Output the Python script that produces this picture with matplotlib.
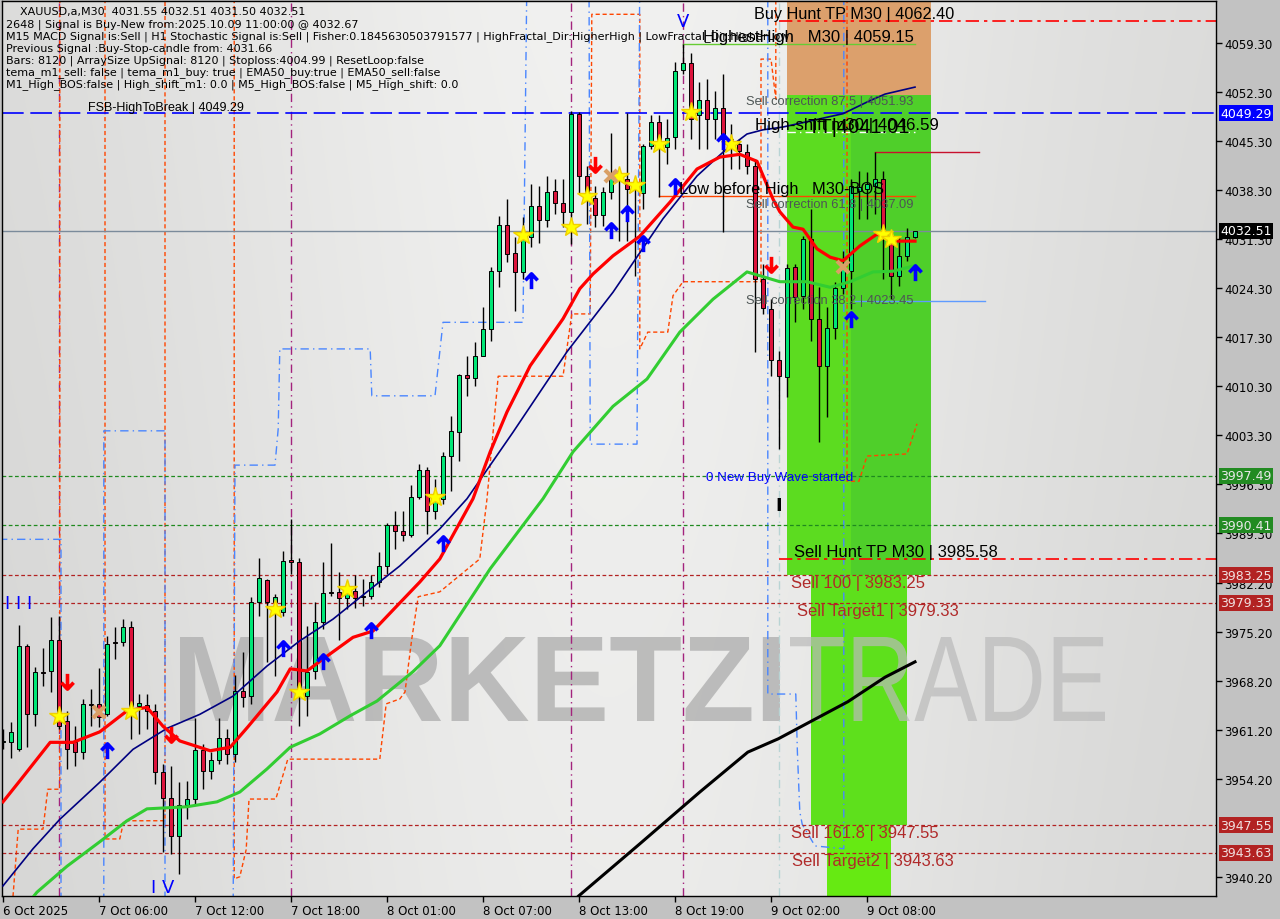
import numpy as np
import matplotlib.pyplot as plt
from matplotlib.patches import Rectangle, PathPatch
from matplotlib.path import Path
from matplotlib.textpath import TextPath
from matplotlib.font_manager import FontProperties
from matplotlib.transforms import Affine2D

W, H = 1280, 920
nan = np.nan

# ---------------- values ----------------
time_labels = ["6 Oct 2025", "7 Oct 06:00", "7 Oct 12:00", "7 Oct 18:00", "8 Oct 01:00",
               "8 Oct 07:00", "8 Oct 13:00", "8 Oct 19:00", "9 Oct 02:00", "9 Oct 08:00"]
time_label_bars = [0, 12, 24, 36, 48, 60, 72, 84, 96, 108]

# 3947.20 sits fully under the 3947.55 tag, so it is left out
price_ticks = [4059.30, 4052.30, 4045.30, 4038.30, 4031.30, 4024.30, 4017.30, 4010.30, 4003.30,
               3996.30, 3989.30, 3982.20, 3975.20, 3968.20, 3961.20, 3954.20, 3940.20]

open_ = [3959.4, 3959.4, 3958.4, 3973.2, 3963.4, 3969.4, 3969.6, 3974.0, 3962.4, 3959.4,
         3958.0, 3964.9, 3964.9, 3963.4, 3973.7, 3973.7, 3975.9, 3964.6, 3964.7, 3963.9,
         3955.2, 3951.4, 3946.0, 3950.4, 3951.3, 3958.3, 3955.3, 3956.9, 3960.0, 3957.7,
         3966.7, 3966.0, 3979.4, 3982.6, 3979.4, 3978.0, 3985.4, 3985.2, 3966.0, 3969.6,
         3976.6, 3980.9, 3980.9, 3980.0, 3981.0, 3980.3, 3980.3, 3982.3, 3984.6, 3990.4,
         3989.6, 3989.0, 3994.4, 3998.3, 3992.4, 3994.2, 4000.3, 4003.7, 4011.9, 4011.4,
         4014.6, 4018.4, 4026.7, 4033.3, 4029.3, 4026.6, 4031.6, 4036.0, 4034.0, 4038.2,
         4036.4, 4035.2, 4049.2, 4040.3, 4037.2, 4034.7, 4038.0, 4040.4, 4039.9, 4038.7,
         4037.9, 4044.6, 4048.0, 4044.4, 4045.9, 4055.4, 4056.4, 4049.0, 4051.2, 4048.4,
         4050.0, 4045.6, 4044.9, 4043.7, 4041.7, 4025.6, 4021.3, 4014.0, 4011.6, 4027.3,
         4023.2, 4031.3, 4019.9, 4013.2, 4018.6, 4024.3, 4026.7, 4038.2, 4038.4, 4038.9,
         4039.9, 4031.3, 4026.0, 4028.9, 4031.55]
high = [3961.3, 3962.3, 3976.2, 3973.4, 3970.2, 3972.9, 3977.3, 3977.4, 3963.9, 3961.7,
        3965.6, 3967.0, 3970.0, 3974.6, 3975.9, 3977.0, 3976.7, 3966.3, 3966.3, 3964.9,
        3956.3, 3956.0, 3953.7, 3953.9, 3962.9, 3959.2, 3958.0, 3962.9, 3961.3, 3969.0,
        3972.3, 3980.2, 3985.7, 3982.7, 3980.6, 3986.7, 3991.3, 3985.7, 3976.0, 3979.4,
        3985.2, 3987.9, 3983.7, 3982.4, 3983.3, 3982.7, 3983.3, 3986.6, 3990.7, 3992.4,
        3992.4, 3996.2, 3999.2, 3998.7, 3997.0, 4000.9, 4006.0, 4012.0, 4014.6, 4016.6,
        4021.6, 4027.3, 4034.6, 4037.0, 4031.6, 4034.4, 4039.2, 4038.9, 4040.3, 4039.9,
        4039.9, 4049.6, 4049.4, 4041.7, 4038.9, 4038.7, 4046.4, 4040.9, 4049.3, 4039.4,
        4044.9, 4049.0, 4049.0, 4048.4, 4056.6, 4059.15, 4057.9, 4053.7, 4054.2, 4052.5,
        4054.9, 4047.7, 4045.6, 4044.9, 4042.7, 4027.7, 4022.7, 4015.3, 4027.7, 4027.7,
        4031.7, 4035.6, 4024.4, 4021.6, 4025.2, 4029.6, 4039.9, 4041.0, 4040.9, 4043.7,
        4041.0, 4032.4, 4031.6, 4032.9, 4032.51]
low = [3958.4, 3957.2, 3958.2, 3958.7, 3961.7, 3967.4, 3966.6, 3961.3, 3955.6, 3956.0,
       3957.0, 3961.7, 3961.6, 3963.2, 3971.3, 3973.2, 3959.9, 3960.6, 3961.3, 3953.4,
       3943.7, 3943.4, 3940.6, 3948.4, 3950.6, 3952.7, 3954.2, 3956.3, 3956.3, 3956.6,
       3964.4, 3964.9, 3977.4, 3970.9, 3968.9, 3977.4, 3983.4, 3961.7, 3963.2, 3968.4,
       3975.6, 3980.3, 3974.0, 3978.4, 3978.6, 3978.9, 3979.9, 3981.6, 3983.4, 3987.0,
       3988.2, 3988.7, 3994.2, 3989.2, 3991.3, 3993.4, 3995.3, 3999.6, 4008.9, 4010.3,
       4014.6, 4016.7, 4024.4, 4028.0, 4021.0, 4025.6, 4030.2, 4030.7, 4033.0, 4034.9,
       4033.0, 4030.6, 4037.7, 4033.4, 4033.0, 4033.2, 4037.0, 4031.0, 4031.0, 4026.0,
       4035.6, 4044.2, 4037.3, 4042.0, 4044.2, 4054.9, 4045.6, 4044.2, 4044.2, 4045.6,
       4032.3, 4041.3, 4041.3, 4040.6, 4015.2, 4020.6, 4011.7, 4001.3, 4008.7, 4019.4,
       4021.3, 4016.7, 4002.3, 4005.9, 4017.0, 4023.4, 4021.3, 4034.2, 4034.2, 4034.9,
       4025.6, 4022.7, 4024.6, 4028.2, 4031.50]
close = [3959.5, 3960.9, 3973.2, 3963.4, 3969.4, 3969.3, 3974.0, 3961.7, 3958.4, 3958.0,
         3964.9, 3964.7, 3963.0, 3973.4, 3973.6, 3975.9, 3964.6, 3965.0, 3963.9, 3955.2,
         3951.4, 3946.0, 3950.4, 3951.3, 3958.3, 3955.3, 3956.9, 3960.0, 3957.7, 3966.7,
         3965.9, 3979.4, 3982.9, 3979.4, 3980.2, 3985.3, 3985.2, 3966.6, 3969.4, 3976.6,
         3980.7, 3980.7, 3980.0, 3980.9, 3980.0, 3980.2, 3982.3, 3984.6, 3990.4, 3989.6,
         3989.0, 3994.4, 3998.3, 3992.4, 3994.6, 4000.3, 4003.9, 4011.9, 4011.4, 4014.6,
         4018.4, 4026.7, 4033.3, 4029.2, 4026.6, 4032.4, 4036.0, 4034.0, 4038.0, 4036.4,
         4035.2, 4049.2, 4040.3, 4037.4, 4034.7, 4038.0, 4040.6, 4040.3, 4038.4, 4038.6,
         4044.6, 4048.0, 4044.6, 4045.7, 4055.3, 4056.4, 4048.4, 4051.2, 4048.4, 4050.0,
         4045.6, 4044.9, 4043.9, 4041.7, 4025.6, 4021.4, 4014.0, 4011.7, 4027.2, 4023.0,
         4031.3, 4019.9, 4013.2, 4018.6, 4024.3, 4027.0, 4038.9, 4038.7, 4039.2, 4039.9,
         4032.0, 4026.0, 4028.9, 4031.6, 4032.51]

# moving averages, read at the bars listed with them
red_ma_bars = [0, 2.1, 5.9, 8.75, 12.1, 15.5, 18, 20, 22.1, 25.9, 28.4, 30.6, 34.25, 35.9, 38, 40,
               43.75, 46.25, 49.25, 52.1, 54.6, 58.75, 60.9, 63, 65.9, 70, 72.1, 73.75, 76.25,
               79.6, 83.4, 86.75, 89.6, 92.1, 94.25, 96.25, 97.1, 98.75, 100, 101.75, 103.4,
               105, 107.1, 109.25, 111.25, 114]
red_ma = [3950.9, 3953.9, 3959.4, 3959.4, 3960.9, 3963.9, 3964.4, 3961.7, 3959.6, 3958.2, 3958.7,
          3961.6, 3966.6, 3969.9, 3969.6, 3971.3, 3974.4, 3975.3, 3978.9, 3982.3, 3985.6, 3994.2,
          4000.9, 4006.6, 4013.2, 4019.9, 4024.2, 4026.3, 4028.9, 4031.7, 4036.6, 4041.3, 4043.0,
          4043.4, 4042.4, 4037.0, 4035.2, 4033.0, 4032.7, 4029.9, 4028.7, 4028.2, 4030.3, 4032.0,
          4031.0, 4031.0]
navy_ma_bars = [0, 3.75, 7.1, 12.1, 16.25, 20.5, 24.6, 28.75, 33, 37.1, 41.25, 45.5, 49.6, 54.6,
                58, 63.75, 70.5, 76.25, 82.5, 86.75, 90, 93, 95, 97.5, 105, 108.25, 110.25, 114]
navy_ma = [3938.9, 3944.2, 3948.4, 3953.7, 3958.4, 3961.4, 3963.4, 3966.0, 3970.3, 3973.9, 3977.0,
           3980.9, 3984.6, 3989.9, 3994.2, 4003.7, 4015.2, 4023.7, 4034.2, 4040.3, 4043.7, 4046.3,
           4046.9, 4047.3, 4049.2, 4051.0, 4052.0, 4053.0]
green_ma_bars = [2.5, 4.25, 8, 12.1, 15.5, 18, 23, 26.75, 29.6, 33, 35.9, 39.6, 43.4, 46.75, 51.25,
                 54.6, 60.9, 67.5, 71.25, 76.25, 80.5, 84.6, 88.75, 93, 97.1, 100.5, 103.4, 105.9,
                 108.75, 111.25, 114]
green_ma = [3935.5, 3938.0, 3941.7, 3945.2, 3948.2, 3949.9, 3950.2, 3950.9, 3952.3, 3955.6, 3958.7,
            3960.6, 3963.2, 3965.3, 3969.5, 3973.2, 3984.2, 3994.2, 4000.9, 4007.4, 4011.3, 4018.0,
            4022.7, 4026.6, 4025.2, 4025.2, 4024.4, 4025.2, 4026.6, 4026.7, 4027.5]
black_ma_bars = [70, 71.9, 79.6, 87.1, 93.1, 96.9, 101, 105.6, 110.25, 114]
black_ma = [3935.0, 3937.4, 3944.9, 3952.3, 3958.0, 3959.9, 3962.4, 3965.2, 3968.7, 3970.9]

# stepped trailing lines (nan = gap)
orange_step_bars = [1.25, 1.9, 5, 5.6, 7.1, 7.1, nan,
                    12.75, 12.75, 14.6, 15.1, 20.25, 20.25, nan,
                    28.9, 28.9, 29.6, 30.4, 30.75, 34.1, 35.6, 47.1, 47.9, 49.6, 50.25, 51.1, 51.9,
                    54.6, 59.6, 60.5, 61.9, 70, 71.1, 73.4, 73.6, 79.6, 79.6, 80.6, 83.1, 83.75, 85,
                    94.75, 94.75, 96, 96.6, 96.6, nan,
                    105.5, 105.5, 107, 108, 113, 114.25]
orange_step = [3937.4, 3947.0, 3947.0, 3952.7, 3952.7, 4070, nan,
               4070, 3945.6, 3945.6, 3948.2, 3948.2, 4070, nan,
               4070, 3939.9, 3940.2, 3944.1, 3951.3, 3951.3, 3957.0, 3957.0, 3964.9, 3965.6, 3966.6,
               3974.2, 3980.2, 3980.9, 3985.6, 3994.2, 4011.7, 4011.7, 4020.6, 4020.6, 4063.4,
               4063.4, 4015.6, 4018.0, 4018.0, 4023.2, 4025.2, 4025.2, 4057.0, 4057.0, 4051.3, 4070,
               nan, 4070, 3996.7, 3996.7, 4000.3, 4000.6, 4004.9]
blue_step_bars = [-0.5, 7.25, 7.25, nan, 12.6, 12.6, 20.25, 20.25, nan,
                  28.75, 29, 34, 34.4, 34.6, 45.9, 46.1, 54, 55, 65, 65.5, nan,
                  73.25, 73.4, 79.25, 79.6, nan,
                  95.6, 95.6, 99.1, 99.3, 99.6, 99.9, 101.5, 105.1, 105.1]
blue_step = [3988.4, 3988.4, 3930, nan, 3930, 4003.9, 4003.9, 3930, nan,
             3930, 3999.0, 3999.0, 4004.2, 4015.6, 4015.6, 4008.9, 4008.9, 4019.4, 4019.4, 4070, nan,
             4070, 4002.0, 4002.0, 4070, nan,
             4070, 3966.3, 3966.3, 3958.0, 3949.5, 3947.7, 3944.6, 3944.2, 4070]
signal_vlines = [7, 36, 71, 85]

# signal marks
star_bars = [7, 16, 34, 37, 43, 54, 65, 71, 73, 77, 79, 82, 86, 91, 110, 111]
star_prices = [3963.2, 3963.9, 3978.4, 3966.6, 3981.3, 3994.4, 4031.9, 4033.0, 4037.4, 4040.3,
               4039.0, 4044.9, 4049.4, 4044.9, 4032.0, 4031.3]
up_bars = [13, 35, 40, 46, 55, 66, 76, 78, 80, 84, 90, 106, 114]
up_prices = [3958.2, 3972.7, 3970.9, 3975.3, 3987.7, 4025.3, 4032.4, 4034.9, 4030.6, 4038.7,
             4045.2, 4019.7, 4026.5]
down_bars = [8, 21, 74, 96]
down_prices = [3968.2, 3960.6, 4042.0, 4027.7]
cross_bars = [12, 76, 105]
cross_prices = [3963.7, 4040.3, 4027.3]

# levels
fsb_high = 4049.29
last_price = 4032.51
buy_levels = [3997.49, 3990.41]
sell_levels = [3983.25, 3979.33, 3947.55, 3943.63]
sell_names = ["Sell 100", "Sell Target1", "Sell 161.8", "Sell Target2"]
buy_hunt_tp = 4062.40
sell_hunt_tp = 3985.58
highest_high = 4059.15
high_shift = 4046.59
tt_level = 4041.01
low_before_high = 4037.4
fractal_high = 4043.7
fractal_low = 4022.4
corr_names = ["87.5", "61.8", "38.2"]
corr_levels = [4051.93, 4037.09, 4023.45]

header = [
    "2648 | Signal is Buy-New from:2025.10.09 11:00:00 @ 4032.67",
    "M15 MACD Signal is:Sell | H1 Stochastic Signal is:Sell | Fisher:0.1845630503791577 | "
    "HighFractal_Dir:HigherHigh | LowFractal_Dir:HigherLow",
    "Previous Signal :Buy-Stop-candle from: 4031.66",
    "Bars: 8120 | ArraySize UpSignal: 8120 | Stoploss:4004.99 | ResetLoop:false",
    "tema_m1_sell: false | tema_m1_buy: true | EMA50_buy:true | EMA50_sell:false",
    "M1_High_BOS:false | High_shift_m1: 0.0 | M5_High_BOS:false | M5_High_shift: 0.0",
]

# ---------------- figure ----------------
fig = plt.figure(figsize=(W / 100, H / 100), dpi=100, facecolor='#c2c2c2')
ax = fig.add_axes([2 / W, 23 / H, 1214 / W, 895 / H])
x0, x1 = -0.125, 151.625
y0, y1 = 3937.45, 4065.30

# background gradient of the chart window
gx = np.linspace(0, 1, 300)
gy = np.linspace(0, 1, 200)
GX, GY = np.meshgrid(gx, gy)
shade = 0.845 + 0.10 * np.exp(-((GX - 0.5) / 0.38) ** 2) - 0.02 * GY
ax.imshow(np.dstack([shade, shade, shade * 0.995]), extent=[x0, x1, y0, y1],
          aspect='auto', zorder=0, interpolation='bilinear')

# target zones
ax.add_patch(Rectangle((98, corr_levels[0]), 18, 20, fc='#dca06c', ec='none', zorder=1))
ax.add_patch(Rectangle((98, sell_levels[0]), 18, corr_levels[0] - sell_levels[0],
                       fc='#5cdc20', ec='none', zorder=1))
ax.add_patch(Rectangle((106, sell_levels[0]), 10, corr_levels[0] - sell_levels[0],
                       fc='#46c634', ec='none', alpha=0.55, zorder=1))
ax.add_patch(Rectangle((101, sell_levels[2]), 12, sell_levels[0] - sell_levels[2],
                       fc='#5ee01c', ec='none', zorder=1))
ax.add_patch(Rectangle((103, 3930), 8, sell_levels[2] - 3930, fc='#66ea12', ec='none', zorder=1))

# watermark
def watermark(text, box, color, weight, alpha):
    tp = TextPath((0, 0), text, size=100, prop=FontProperties(family='Liberation Sans', weight=weight))
    ext = tp.get_extents()
    left, top, right, bottom = box
    sx = (right - left) / ext.width
    sy = (bottom - top) / ext.height
    tr = Affine2D().translate(-ext.x0, -ext.y0).scale(sx, sy).translate(left, H - bottom)
    ax.add_artist(PathPatch(tp, transform=tr, fc=color, ec='none', alpha=alpha, zorder=1.5))

watermark("MARKETZI", (180, 638, 780, 722), '#b0b0b0', 'bold', 0.8)
watermark("TRADE", (790, 638, 1105, 722), '#bababa', 'normal', 0.7)

# vertical signal lines and stepped channels
for b in signal_vlines:
    ax.axvline(b, color='#a3237d', lw=1, ls=(0, (6, 3, 1, 3)), zorder=2)
ax.axvline(97, color='#b8d4d4', lw=1, ls=(0, (6, 3, 1, 3)), zorder=2)
ax.plot(orange_step_bars, orange_step, color='#ff4500', lw=1, ls=(0, (3, 2)), zorder=2)
ax.plot(blue_step_bars, blue_step, color='#4a86ff', lw=1, ls=(0, (6, 3, 1, 3)), zorder=2)

# horizontal levels
ax.axhline(fsb_high, color='#0000ff', lw=1.2, ls=(0, (13, 4)), zorder=2)
ax.axhline(last_price, color='#7b8b9b', lw=1, zorder=2)
for lv in buy_levels:
    ax.axhline(lv, color='#1f8a1f', lw=0.9, ls=(0, (3, 2)), zorder=2)
for lv in sell_levels:
    ax.axhline(lv, color='#b22222', lw=0.9, ls=(0, (3, 2)), zorder=2)
for lv in (buy_hunt_tp, sell_hunt_tp):
    ax.plot([97, x1], [lv, lv], color='#ff0000', lw=1.2, ls=(0, (8, 3, 2, 3)), zorder=2)
ax.plot([85, 114], [highest_high] * 2, color='#66cc33', lw=1, zorder=2)
ax.plot([98, 114], [high_shift] * 2, color='white', lw=1, ls=(0, (6, 3, 1, 3)), zorder=2)
ax.plot([82, 114], [low_before_high] * 2, color='#ff4500', lw=1, zorder=2)
ax.plot([109, 122], [fractal_high] * 2, color='#c8102e', lw=1, zorder=2)
ax.plot([106.5, 122.75], [fractal_low] * 2, color='#5f9bff', lw=1, zorder=2)

# candles
bars = np.arange(len(close))
o = np.array(open_)
c = np.array(close)
ax.vlines(bars, low, high, color='black', lw=1, zorder=3)
up = c >= o
body = np.maximum(np.abs(c - o), 0.15)
ax.bar(bars[up], body[up], bottom=np.minimum(o, c)[up], width=0.62, color='#00e676',
       edgecolor='black', linewidth=0.7, zorder=4)
ax.bar(bars[~up], body[~up], bottom=np.minimum(o, c)[~up], width=0.62, color='#dc143c',
       edgecolor='black', linewidth=0.7, zorder=4)

# moving averages
ax.plot(black_ma_bars, black_ma, color='black', lw=2.2, zorder=5)
ax.plot(green_ma_bars, green_ma, color='#32cd32', lw=2.2, zorder=5)
ax.plot(navy_ma_bars, navy_ma, color='#000080', lw=1.2, zorder=5)
ax.plot(red_ma_bars, red_ma, color='#ff0000', lw=2.3, zorder=5)

# signal marks
arrow_up = Path([(-0.8, 0.15), (0, 1), (0.8, 0.15), (0, 1), (0, -1)],
                [Path.MOVETO, Path.LINETO, Path.LINETO, Path.MOVETO, Path.LINETO])
arrow_down = Path([(-0.8, -0.15), (0, -1), (0.8, -0.15), (0, -1), (0, 1)],
                  [Path.MOVETO, Path.LINETO, Path.LINETO, Path.MOVETO, Path.LINETO])
ax.plot(star_bars, star_prices, ls='none', marker='*', ms=15, mfc='#ffff00', mec='#f0d000',
        zorder=6)
ax.plot(cross_bars, cross_prices, ls='none', marker='x', ms=8, mew=3, color='#d9a066', zorder=6)
ax.plot(up_bars, up_prices, ls='none', marker=arrow_up, ms=11, mew=2.6, mfc='none',
        color='#0000ff', zorder=6)
ax.plot(down_bars, down_prices, ls='none', marker=arrow_down, ms=11, mew=2.6, mfc='none',
        color='#ff0000', zorder=6)

# wave labels
ax.text(2, 3979.3, 'I I I', color='#0000ff', fontsize=13, ha='center', va='center', zorder=6)
ax.text(20, 3938.7, 'I V', color='#0000ff', fontsize=13, ha='center', va='center', zorder=6)
ax.text(85, 4062.4, 'V', color='#0000ff', fontsize=13, ha='center', va='center', zorder=6)
ax.text(97, 3993.3, 'I', color='black', fontsize=13, fontweight='bold', ha='center',
        va='center', zorder=6)

# level labels
nar = ['Liberation Sans Narrow', 'Liberation Sans']
ax.text(10.6, fsb_high, f'FSB-HighToBreak | {fsb_high:.2f}', fontsize=9, family=nar,
        va='bottom', zorder=7)
ax.text(93.9, buy_hunt_tp, f'Buy Hunt TP M30 | {buy_hunt_tp:.2f}', fontsize=11.7, family=nar,
        va='bottom', zorder=7)
ax.text(87.5, highest_high, f'HighestHigh   M30 | {highest_high:.2f}', fontsize=12, family=nar,
        va='bottom', zorder=7)
ax.text(94.0, high_shift, f'High-shift m30 | {high_shift:.2f}', fontsize=12.2, family=nar,
        va='bottom', zorder=7)
ax.text(100.6, 4047.4, f'TT|{tt_level:.2f}', fontsize=14.5, family=nar, va='center', zorder=7)
ax.text(84.5, low_before_high, 'Low before High   M30-BOS', fontsize=11.8, family=nar,
        va='bottom', zorder=7)
for name, lv in zip(corr_names, corr_levels):
    ax.text(92.9, lv, f'Sell correction {name} | {lv:.2f}', fontsize=9.3, family=nar,
            color='#4d5555', va='top', zorder=7)
ax.text(87.9, 3997.3, '0 New Buy Wave started', fontsize=9.6, family=nar, color='#0000ff',
        va='center', zorder=7)
ax.text(98.9, sell_hunt_tp, f'Sell Hunt TP M30 | {sell_hunt_tp:.2f}', fontsize=12, family=nar,
        va='bottom', zorder=7)
for name, lv, xb in zip(sell_names, sell_levels, [98.5, 99.25, 98.5, 98.6]):
    ax.text(xb, lv, f'{name} | {lv:.2f}', fontsize=12, family=nar, color='#b02a2a',
            va='top', zorder=7)

# price tags on the axis
tags = [(fsb_high, '#0000ff', 'white'), (last_price, 'black', 'white')]
tags += [(lv, '#228b22', '#e8e8e8') for lv in buy_levels]
tags += [(lv, '#b22222', '#f0e0e0') for lv in sell_levels]
for lv, fc, tc in tags:
    ax.text(1.0 + 4 / 1214, lv, f'{lv:.2f}', transform=ax.get_yaxis_transform(), fontsize=9,
            color=tc, ha='left', va='center', clip_on=False, zorder=10,
            bbox=dict(boxstyle='square,pad=0.12', fc=fc, ec='none'))

# header
fig.text(20 / W, 1 - 12 / H, 'XAUUSD,a,M30  4031.55 4032.51 4031.50 4032.51', fontsize=8,
         va='center')
for k, line in enumerate(header):
    fig.text(6 / W, 1 - (25 + 12 * k) / H, line, fontsize=8, va='center')

# axes
ax.set_xlim(x0, x1)
ax.set_ylim(y0, y1)
ax.yaxis.tick_right()
ax.set_yticks(price_ticks)
ax.set_yticklabels([f'{t:.2f}' for t in price_ticks])
ax.set_xticks(time_label_bars)
ax.set_xticklabels(time_labels, ha='left')
ax.tick_params(axis='both', labelsize=8.5, length=4, width=1, pad=2, colors='black')
for s in ax.spines.values():
    s.set_color('black')
    s.set_linewidth(1)

fig.savefig('out.png', dpi=100, facecolor=fig.get_facecolor())
